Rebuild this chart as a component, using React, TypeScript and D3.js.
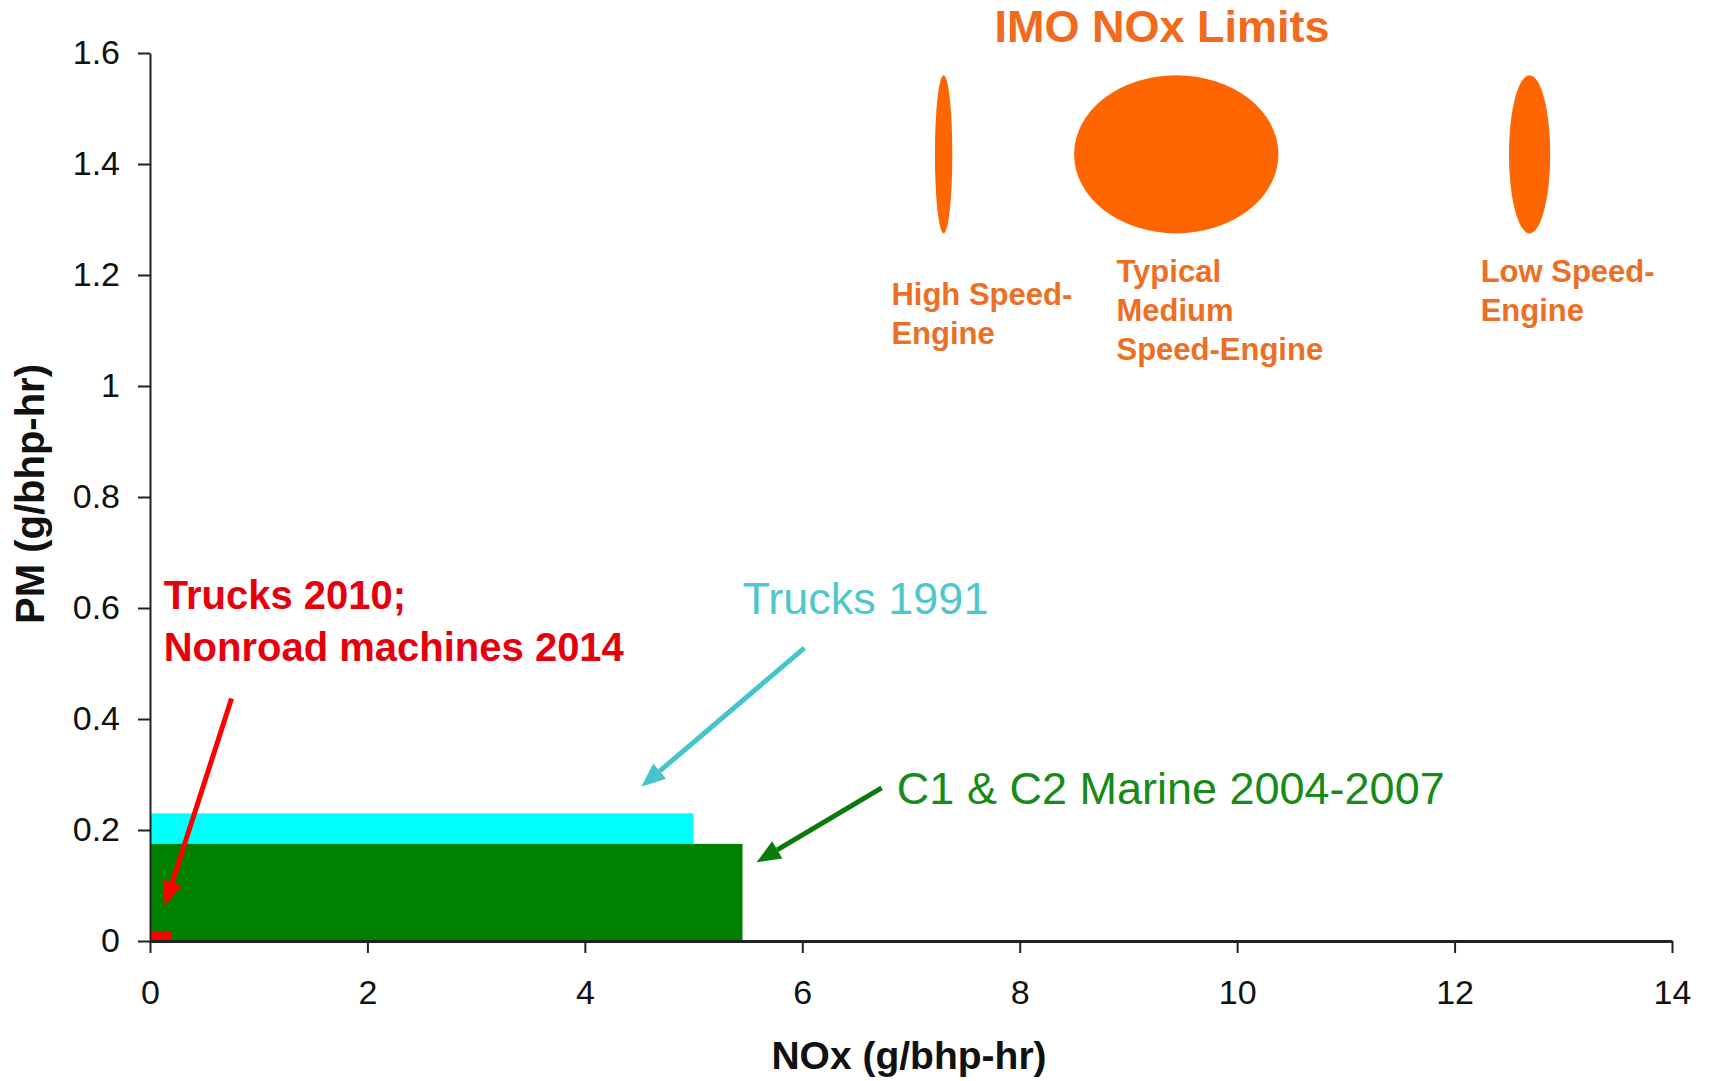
import * as React from 'react'
import {select, scaleLinear, axisBottom, axisLeft} from 'd3'

const {useEffect, useRef} = React

// axes
const noxTicks = [0, 2, 4, 6, 8, 10, 12, 14]
const pmTicks = [0, 0.2, 0.4, 0.6, 0.8, 1, 1.2, 1.4, 1.6]

// emission standards, drawn as boxes from the origin
const boxNames = ['Trucks 1991', 'C1 & C2 Marine 2004-2007', 'Trucks 2010']
const boxNox = [5.0, 5.45, 0.2]
const boxPm = [0.23, 0.175, 0.018]
const boxColors = ['#00ffff', '#008000', '#ff0000']

// IMO NOx limits (ranges)
const imoLines = [['High Speed-', 'Engine'], ['Typical', 'Medium', 'Speed-Engine'], ['Low Speed-', 'Engine']]
const imoNoxMin = [7.22, 8.5, 12.5]
const imoNoxMax = [7.38, 10.38, 12.88]
const imoPmMin = [1.275, 1.275, 1.275]
const imoPmMax = [1.56, 1.56, 1.56]
const imoLabelAt = [[6.82, 1.146], [8.89, 1.188], [12.24, 1.188]]

// callouts
const noteLines = [['Trucks 2010;', 'Nonroad machines 2014'], ['Trucks 1991'], ['C1 & C2 Marine 2004-2007']]
const noteAt = [[0.126, 0.598], [5.45, 0.589], [6.87, 0.247]]
const noteColors = ['#e6000c', '#4ec6cc', '#178a17']
const noteSizes = [40, 45, 45]
const noteWeights = ['bold', 'normal', 'normal']
const arrowFrom = [[0.75, 0.437], [6.02, 0.528], [6.73, 0.276]]
const arrowTo = [[0.136, 0.064], [4.52, 0.278], [5.58, 0.142]]
const arrowColors = ['#ff0000', '#45c4cc', '#0a7a0a']

const W = 1711
const H = 1081
const FONT = '"Liberation Sans", Arial, sans-serif'

export default function App() {
  const ref = useRef(null)

  useEffect(() => {
    const svg = select(ref.current)
    svg.selectAll('*').remove()

    const x = scaleLinear().domain([0, 14]).range([150, 1672])
    const y = scaleLinear().domain([0, 1.6]).range([941, 53])

    // boxes
    svg.append('g')
      .selectAll('rect')
      .data(boxNames)
      .join('rect')
      .attr('x', x(0))
      .attr('y', (d, i) => y(boxPm[i]))
      .attr('width', (d, i) => x(boxNox[i]) - x(0))
      .attr('height', (d, i) => y(0) - y(boxPm[i]))
      .attr('fill', (d, i) => boxColors[i])

    // axes
    const fmt = d => String(+(+d).toFixed(1))
    const gy = svg.append('g')
      .attr('transform', `translate(${x(0)},0)`)
      .call(axisLeft(y).tickValues(pmTicks).tickFormat(fmt).tickSize(12).tickSizeOuter(0).tickPadding(18))
    gy.select('.domain').attr('stroke', '#222').attr('stroke-width', 2)
    gy.selectAll('.tick line').attr('stroke', '#222').attr('stroke-width', 2)
    gy.selectAll('text').attr('font-size', 34).attr('font-family', FONT).attr('fill', '#111')

    const gx = svg.append('g')
      .attr('transform', `translate(0,${y(0)})`)
      .call(axisBottom(x).tickValues(noxTicks).tickFormat(fmt).tickSize(12).tickSizeOuter(0).tickPadding(27))
    gx.select('.domain').attr('stroke', '#222').attr('stroke-width', 3)
    gx.selectAll('.tick line').attr('stroke', '#222').attr('stroke-width', 2)
    gx.selectAll('text').attr('font-size', 34).attr('font-family', FONT).attr('fill', '#111')

    // axis titles
    svg.append('text')
      .attr('x', 909)
      .attr('y', 1069)
      .attr('text-anchor', 'middle')
      .attr('font-family', FONT)
      .attr('font-weight', 'bold')
      .attr('font-size', 39)
      .attr('fill', '#111')
      .text('NOx (g/bhp-hr)')

    svg.append('text')
      .attr('transform', 'translate(44,494) rotate(-90)')
      .attr('text-anchor', 'middle')
      .attr('font-family', FONT)
      .attr('font-weight', 'bold')
      .attr('font-size', 40)
      .attr('fill', '#111')
      .text('PM (g/bhp-hr)')

    // IMO ellipses
    svg.append('g')
      .selectAll('ellipse')
      .data(imoLines)
      .join('ellipse')
      .attr('cx', (d, i) => (x(imoNoxMin[i]) + x(imoNoxMax[i])) / 2)
      .attr('cy', (d, i) => (y(imoPmMin[i]) + y(imoPmMax[i])) / 2)
      .attr('rx', (d, i) => (x(imoNoxMax[i]) - x(imoNoxMin[i])) / 2)
      .attr('ry', (d, i) => (y(imoPmMin[i]) - y(imoPmMax[i])) / 2)
      .attr('fill', '#ff6600')

    svg.append('text')
      .attr('x', x(9.31))
      .attr('y', y(1.619))
      .attr('text-anchor', 'middle')
      .attr('font-family', FONT)
      .attr('font-weight', 'bold')
      .attr('font-size', 45)
      .attr('fill', '#f26a1b')
      .text('IMO NOx Limits')

    imoLines.forEach((lines, i) => {
      const t = svg.append('text')
        .attr('font-family', FONT)
        .attr('font-weight', 'bold')
        .attr('font-size', 31)
        .attr('fill', '#ec6f24')
      lines.forEach((s, j) => {
        t.append('tspan')
          .attr('x', x(imoLabelAt[i][0]))
          .attr('y', y(imoLabelAt[i][1]) + j * 39)
          .text(s)
      })
    })

    // callout texts
    noteLines.forEach((lines, i) => {
      const t = svg.append('text')
        .attr('font-family', FONT)
        .attr('font-weight', noteWeights[i])
        .attr('font-size', noteSizes[i])
        .attr('fill', noteColors[i])
      lines.forEach((s, j) => {
        t.append('tspan')
          .attr('x', x(noteAt[i][0]))
          .attr('y', y(noteAt[i][1]) + j * 52)
          .text(s)
      })
    })

    // arrows
    arrowFrom.forEach((f, i) => {
      const x1 = x(f[0]), y1 = y(f[1])
      const x2 = x(arrowTo[i][0]), y2 = y(arrowTo[i][1])
      const len = Math.hypot(x2 - x1, y2 - y1)
      const ux = (x2 - x1) / len, uy = (y2 - y1) / len
      const hl = 24, hw = 10
      const bx = x2 - ux * hl, by = y2 - uy * hl
      svg.append('line')
        .attr('x1', x1).attr('y1', y1)
        .attr('x2', bx).attr('y2', by)
        .attr('stroke', arrowColors[i])
        .attr('stroke-width', 5)
      svg.append('path')
        .attr('d', `M${x2},${y2}L${bx - uy * hw},${by + ux * hw}L${bx + uy * hw},${by - ux * hw}Z`)
        .attr('fill', arrowColors[i])
    })
  }, [])

  return (
    <div style={{position: 'absolute', left: 0, top: 0, width: W, height: H, background: '#fff'}}>
      <svg ref={ref} width={W} height={H} />
    </div>
  )
}
